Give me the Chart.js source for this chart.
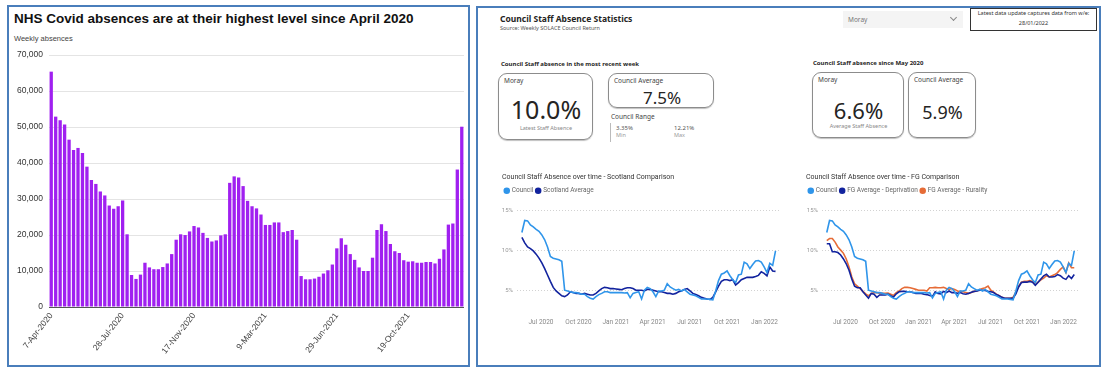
<!DOCTYPE html>
<html>
<head>
<meta charset="utf-8">
<script src="https://cdn.jsdelivr.net/npm/chart.js@4.4.1/dist/chart.umd.min.js"></script>
<style>
  html, body { margin: 0; padding: 0; background: #fff; width: 1102px; height: 368px; overflow: hidden; position: relative; font-family: "Noto Sans", sans-serif; }
  .panel { position: absolute; border: 2px solid #4a7ebb; box-sizing: border-box; }
  .t { position: absolute; white-space: nowrap; line-height: 1; transform: translateY(-50%); }
  .c { transform: translate(-50%, -50%); }
  .card { position: absolute; border: 1px solid #8c8c8c; border-radius: 9px; box-sizing: border-box; box-shadow: 0 1px 1px rgba(0,0,0,0.25); }
  canvas { position: absolute; }
</style>
</head>
<body>
<!-- left panel: weekly NHS absences -->
<div class="panel" style="left:7px;top:5px;width:463px;height:362px"></div>
<div class="t" style="left:14px;top:18px;font:bold 13.5px Arial, 'Liberation Sans', sans-serif;color:#111">NHS Covid absences are at their highest level since April 2020</div>
<div class="t" style="left:14px;top:38px;font:7.5px Arial, 'Liberation Sans', sans-serif;color:#444">Weekly absences</div>
<canvas id="bars" width="455" height="319" style="left:9px;top:44px"></canvas>

<!-- right panel: council staff absence dashboard -->
<div class="panel" style="left:476px;top:6px;width:625px;height:361px"></div>
<div class="t" style="left:500px;top:19px;font-weight:bold;font-size:8.5px;color:#252423">Council Staff Absence Statistics</div>
<div class="t" style="left:500px;top:29px;font-size:5.5px;color:#555">Source: Weekly SOLACE Council Return</div>

<div style="position:absolute;left:843px;top:11px;width:120px;height:17px;background:#f4f4f4"></div>
<div class="t" style="left:848px;top:19.5px;font-size:6.5px;color:#777">Moray</div>
<div style="position:absolute;left:951px;top:15px;width:4px;height:4px;border-right:1px solid #888;border-bottom:1px solid #888;transform:rotate(45deg)"></div>

<div style="position:absolute;left:970px;top:8px;width:127px;height:23px;border:1px solid #333;box-sizing:border-box"></div>
<div class="t c" style="left:1033.5px;top:14px;font-size:5.5px;color:#333">Latest data update captures data from w/e:</div>
<div class="t c" style="left:1033.5px;top:24px;font-size:5.5px;color:#333">28/01/2022</div>

<div class="t" style="left:501px;top:64px;font-weight:bold;font-size:6px;color:#252423">Council Staff absence in the most recent week</div>
<div class="card" style="left:498px;top:73px;width:95px;height:67px"></div>
<div class="t" style="left:504px;top:81px;font-size:6.5px;color:#444">Moray</div>
<div class="t c" style="left:546px;top:109px;font-size:25px;color:#252423">10.0%</div>
<div class="t c" style="left:546px;top:129px;font-size:5.5px;color:#888">Latest Staff Absence</div>

<div class="card" style="left:608px;top:73px;width:106px;height:35px"></div>
<div class="t" style="left:614px;top:80.5px;font-size:6.5px;color:#444">Council Average</div>
<div class="t c" style="left:662px;top:97px;font-size:17px;color:#252423">7.5%</div>

<div class="t" style="left:611px;top:117px;font-size:6.5px;color:#444">Council Range</div>
<div style="position:absolute;left:610px;top:123px;width:1px;height:19px;background:#bbb"></div>
<div class="t" style="left:616px;top:128px;font-size:6px;color:#555">3.35%</div>
<div class="t" style="left:616px;top:136px;font-size:5.5px;color:#999">Min</div>
<div class="t" style="left:674px;top:128px;font-size:6px;color:#555">12.21%</div>
<div class="t" style="left:674px;top:136px;font-size:5.5px;color:#999">Max</div>

<div class="t" style="left:813px;top:62.5px;font-weight:bold;font-size:6px;color:#252423">Council Staff absence since May 2020</div>
<div class="card" style="left:812px;top:72px;width:92px;height:66px"></div>
<div class="t" style="left:818px;top:79.5px;font-size:6.5px;color:#444">Moray</div>
<div class="t c" style="left:858.5px;top:109.5px;font-size:22px;color:#252423">6.6%</div>
<div class="t c" style="left:858.5px;top:127px;font-size:5.5px;color:#888">Average Staff Absence</div>

<div class="card" style="left:908px;top:72px;width:68px;height:66px"></div>
<div class="t" style="left:914px;top:79.5px;font-size:6.5px;color:#444">Council Average</div>
<div class="t c" style="left:942.5px;top:112px;font-size:18px;color:#252423">5.9%</div>

<canvas id="scotland" width="290" height="162" style="left:499px;top:170px"></canvas>
<canvas id="family" width="285" height="162" style="left:803px;top:170px"></canvas>

<script>
// ---- Weekly NHS Covid absences (week commencing) ----
const firstAbsenceWeek = '2020-04-07';
const weeklyAbsences = [
  65400, 52900, 51900, 50700, 46500, 43600, 44200, 42800, 39000, 35300,
  34200, 32100, 31000, 28200, 27300, 28000, 29600, 20200, 8900, 7800,
  9000, 12300, 11000, 10500, 10500, 11100, 12100, 14700, 18700, 20200,
  20000, 21000, 22500, 22100, 20600, 19200, 18200, 18500, 19900, 20200,
  34500, 36300, 36000, 33600, 29500, 28000, 27400, 25700, 22800, 22800,
  23500, 23500, 20800, 21100, 21400, 18700, 8600, 7700, 7700, 7900,
  8400, 9300, 10200, 11800, 16300, 19100, 17300, 14700, 13100, 11000,
  10000, 10000, 13700, 21400, 23000, 21100, 17500, 15500, 15000, 13000,
  12600, 12700, 12300, 12300, 12500, 12500, 12100, 13400, 16000, 22900,
  23200, 38200, 50100
];
const barTickLabels = ['7-Apr-2020', '28-Jul-2020', '17-Nov-2020', '9-Mar-2021', '29-Jun-2021', '19-Oct-2021'];

// ---- Council staff absence, % (week ending) ----
const firstWeekEnding = '2020-05-15';
const council = [
  12.3, 13.8, 13.75, 13.25, 13.0, 12.7, 12.45, 12.0, 11.4, 10.5,
  9.3, 9.1, 9.0, 8.9, 8.7, 5.1, 5.0, 4.9, 4.8, 4.8,
  4.7, 4.6, 4.6, 4.3, 4.1, 4.0, 4.3, 4.55, 4.7, 4.9,
  4.9, 4.8, 4.8, 4.8, 4.8, 4.8, 4.75, 4.8, 4.15, 4.7,
  4.8, 4.9, 4.0, 5.1, 5.45, 5.3, 4.9, 4.3, 5.0, 5.0,
  5.1, 5.9, 5.5, 5.3, 5.1, 5.2, 5.0, 5.2, 4.9, 4.6,
  4.5, 4.4, 4.2, 4.0, 4.0, 4.0, 3.95, 3.9, 5.0, 6.3,
  7.1, 7.25, 7.5, 6.9, 6.4, 6.05, 7.0, 7.1, 8.6, 8.4,
  7.8, 8.3, 8.75, 8.8, 8.6, 8.0, 7.3, 8.45, 8.2, 10.0
];
const scotlandAverage = [
  11.7, 11.0, 10.5, 10.3, 10.0, 9.6, 9.1, 8.5, 7.8, 7.0,
  6.2, 5.45, 5.0, 4.7, 4.4, 4.3, 4.5, 4.9, 4.8, 4.7,
  4.7, 4.6, 4.7, 4.6, 4.5, 4.5, 4.7, 5.0, 5.3, 5.45,
  5.4, 5.3, 5.3, 5.25, 5.2, 5.15, 5.3, 5.4, 5.4, 5.3,
  5.1, 5.1, 5.1, 5.0, 5.2, 5.2, 5.1, 5.0, 4.9, 4.9,
  4.8, 4.7, 4.7, 4.6, 4.7, 4.9, 5.0, 5.2, 5.3, 5.0,
  4.7, 4.55, 4.4, 4.2, 4.1, 4.0, 3.95, 4.2, 4.9, 5.6,
  6.2, 6.4, 6.4, 6.3, 6.4, 5.75, 6.05, 6.4, 6.55, 6.7,
  6.7, 6.7, 6.8, 6.95, 7.4, 7.2, 6.9, 8.0, 7.5, 7.45
];
const fgDeprivation = [
  10.9, 10.9, 9.9, 9.9, 9.8, 9.5, 9.0, 8.4, 7.6, 6.5,
  5.6, 5.4, 5.4, 4.9, 4.5, 4.1, 4.7, 4.6, 4.2, 4.5,
  4.5, 4.5, 4.6, 4.4, 4.25, 4.65, 4.9, 4.95, 4.95, 4.9,
  4.9, 4.8, 4.7, 4.7, 4.7, 4.6, 4.55, 4.45, 4.3, 4.9,
  4.7, 4.65, 4.95, 4.8, 5.0, 4.8, 4.8, 4.7, 4.8, 4.65,
  4.6, 4.7, 4.85, 4.95, 5.0, 5.1, 5.1, 5.05, 4.95, 4.9,
  4.8, 4.55, 4.4, 4.2, 4.1, 4.1, 4.1, 4.1, 4.65, 5.5,
  6.05, 6.1, 6.1, 6.2, 6.1, 5.7, 6.1, 6.5, 6.9, 7.1,
  6.75, 6.75, 6.8, 7.05, 6.9, 6.6, 6.45, 6.9, 6.55, 7.05
];
const fgRurality = [
  11.3, 11.55, 11.55, 11.1, 10.5, 10.1, 9.7, 9.0, 8.0, 6.75,
  5.9, 5.6, 5.3, 4.95, 4.65, 4.4, 4.7, 4.8, 4.8, 4.7,
  4.7, 4.7, 4.75, 4.6, 4.45, 4.8, 5.0, 5.3, 5.45, 5.45,
  5.4, 5.3, 5.2, 5.1, 5.1, 5.1, 5.0, 5.4, 5.4, 5.45,
  5.4, 5.4, 5.45, 5.3, 5.2, 5.3, 5.2, 5.0, 4.95, 4.9,
  4.8, 4.7, 4.8, 4.95, 5.0, 5.2, 5.3, 5.4, 5.6, 5.1,
  4.85, 4.6, 4.4, 4.2, 4.1, 4.1, 4.1, 4.2, 4.85, 5.6,
  6.1, 6.2, 6.2, 6.3, 6.2, 5.8, 6.1, 6.4, 6.6, 6.9,
  6.75, 6.9, 7.05, 7.3, 7.7, 8.0, 7.3, 8.5, 7.9, 7.9
];
const quarterStarts = ['2020-07-01', '2020-10-01', '2021-01-01', '2021-04-01', '2021-07-01', '2021-10-01', '2022-01-01'];
const quarterLabels = ['Jul 2020', 'Oct 2020', 'Jan 2021', 'Apr 2021', 'Jul 2021', 'Oct 2021', 'Jan 2022'];
const percentTicks = [5, 10, 15];

const MONTHS = ['Jan', 'Feb', 'Mar', 'Apr', 'May', 'Jun', 'Jul', 'Aug', 'Sep', 'Oct', 'Nov', 'Dec'];
function dayNumber(iso) {
  const [y, m, d] = iso.split('-').map(Number);
  return Date.UTC(y, m - 1, d) / 86400000;
}
function formatDay(n) {
  const dt = new Date(n * 86400000);
  return dt.getUTCDate() + '-' + MONTHS[dt.getUTCMonth()] + '-' + dt.getUTCFullYear();
}

// bar chart: one category per week
const barCategories = weeklyAbsences.map((_, i) => formatDay(dayNumber(firstAbsenceWeek) + 7 * i));

new Chart(document.getElementById('bars'), {
  type: 'bar',
  data: {
    labels: barCategories,
    datasets: [{
      label: 'Weekly absences',
      data: weeklyAbsences,
      backgroundColor: '#a020f0',
      barPercentage: 0.74,
      categoryPercentage: 1
    }]
  },
  options: {
    responsive: false,
    animation: false,
    layout: { padding: { top: 10, left: 0, right: 0, bottom: 0 } },
    plugins: { legend: { display: false }, tooltip: { enabled: false } },
    scales: {
      x: {
        grid: { display: false, drawTicks: false },
        border: { display: true, color: '#555', width: 1 },
        ticks: {
          autoSkip: false, minRotation: 52, maxRotation: 52, padding: 4,
          color: '#444', font: { family: 'Arial', size: 8.5 },
          callback(v) {
            const l = this.getLabelForValue(v);
            return barTickLabels.includes(l) ? l : null;
          }
        },
        afterFit(s) { s.height = 56; }
      },
      y: {
        min: 0, max: 70000,
        grid: { color: '#e4e4e4', drawTicks: false },
        border: { display: false },
        ticks: {
          stepSize: 10000, padding: 6, color: '#333',
          font: { family: 'Arial', size: 8.5 },
          callback: v => v.toLocaleString('en-GB')
        },
        afterFit(s) { s.width = 40; }
      }
    }
  }
});

// line charts: weekly points on a day-number axis
const day0 = dayNumber(firstWeekEnding);
const dayLast = day0 + 7 * (council.length - 1);
const legendGap = {
  id: 'legendGap',
  beforeInit(chart) {
    const fit = chart.legend.fit;
    chart.legend.fit = function () { fit.call(this); this.height += 7; };
  }
};

function absenceChart(id, title, series, yAxisWidth) {
  return new Chart(document.getElementById(id), {
    type: 'line',
    data: {
      datasets: series.map(s => ({
        label: s.label,
        data: s.values.map((v, i) => ({ x: day0 + 7 * i, y: v })),
        borderColor: s.color,
        backgroundColor: s.color,
        borderWidth: 1.6,
        pointRadius: 0,
        tension: 0
      }))
    },
    options: {
      responsive: false,
      animation: false,
      layout: { padding: { left: 3, top: 0, right: 0, bottom: 0 } },
      plugins: {
        title: {
          display: true, text: title, align: 'start', color: '#333',
          font: { family: 'Roboto', size: 7, weight: 'normal' },
          padding: { top: 3, bottom: 3 }
        },
        legend: {
          align: 'start',
          labels: {
            usePointStyle: true, pointStyle: 'circle', boxWidth: 3.5, boxHeight: 3.5,
            padding: 3, color: '#666', font: { family: 'Roboto', size: 6.5 }
          }
        },
        tooltip: { enabled: false }
      },
      scales: {
        x: {
          type: 'linear',
          min: day0 - 12, max: dayLast + 12,
          grid: { display: false, drawTicks: false },
          border: { display: false },
          afterBuildTicks(s) { s.ticks = quarterStarts.map(d => ({ value: dayNumber(d) })); },
          ticks: {
            autoSkip: false, maxRotation: 0, padding: 11, color: '#888',
            font: { family: 'Roboto', size: 6.5 },
            callback: (v, i) => quarterLabels[i]
          },
          afterFit(s) { s.height = 25; }
        },
        y: {
          min: 3, max: 15,
          afterBuildTicks(s) { s.ticks = percentTicks.map(v => ({ value: v })); },
          grid: { color: '#d2d2d2', drawTicks: false },
          border: { display: false, dash: [1, 2] },
          ticks: { padding: 4, color: '#999', font: { family: 'Roboto', size: 6 }, callback: v => v + '%' },
          afterFit(s) { s.width = yAxisWidth; }
        }
      }
    },
    plugins: [legendGap]
  });
}

absenceChart('scotland', 'Council Staff Absence over time - Scotland Comparison', [
  { label: 'Council', values: council, color: '#2f95ea' },
  { label: 'Scotland Average', values: scotlandAverage, color: '#12239e' }
], 15);

absenceChart('family', 'Council Staff Absence over time - FG Comparison', [
  { label: 'Council', values: council, color: '#2f95ea' },
  { label: 'FG Average - Deprivation', values: fgDeprivation, color: '#12239e' },
  { label: 'FG Average - Rurality', values: fgRurality, color: '#e66c37' }
], 16);
</script>
</body>
</html>
